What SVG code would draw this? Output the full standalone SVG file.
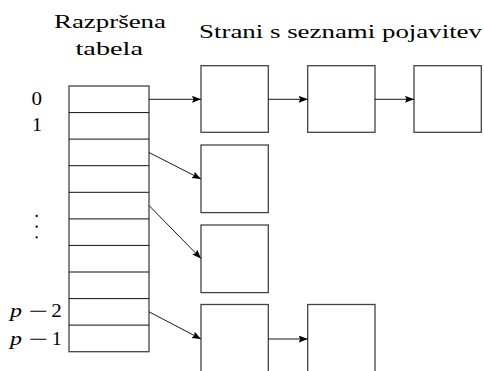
<svg xmlns="http://www.w3.org/2000/svg" width="484" height="371" viewBox="0 0 484 371">
<style>
.t{font-family:"Liberation Serif","Times New Roman",serif;fill:#000}
.ti{font-size:19.5px}
.lb{font-size:18px}
.box{fill:#fff;stroke:#444;stroke-width:1.3}
.row{stroke:#111;stroke-width:1}
.c{stroke:#000;stroke-width:0.9;fill:none;marker-end:url(#ah)}
</style>
<defs>
<marker id="ah" markerUnits="userSpaceOnUse" markerWidth="10" markerHeight="8" refX="9" refY="3.5" orient="auto">
<path d="M0,0 L9,3.5 L0,7 L1.5,3.5 z" fill="#000"/>
</marker>
</defs>
<rect width="484" height="371" fill="#fff"/>
<g id="titles">
<text class="t ti" x="54" y="28" textLength="112" lengthAdjust="spacingAndGlyphs">Razpršena</text>
<text class="t ti" x="75.5" y="54.7" textLength="67.5" lengthAdjust="spacingAndGlyphs">tabela</text>
<text class="t ti" x="199" y="38.3" textLength="283" lengthAdjust="spacingAndGlyphs">Strani s seznami pojavitev</text>
</g>
<g id="labels">
<text class="t lb" x="31.5" y="104.7" textLength="10.5" lengthAdjust="spacingAndGlyphs">0</text>
<text class="t lb" x="32" y="131.3" textLength="10" lengthAdjust="spacingAndGlyphs">1</text>
<circle cx="36.7" cy="216" r="1.15" fill="#000"/>
<circle cx="36.7" cy="226.7" r="1.15" fill="#000"/>
<circle cx="36.7" cy="237.3" r="1.15" fill="#000"/>
<text class="t lb" x="10" y="317.3" font-style="italic" textLength="12" lengthAdjust="spacingAndGlyphs">p</text>
<text class="t lb" x="28.5" y="317.3" textLength="19.5" lengthAdjust="spacingAndGlyphs">−</text>
<text class="t lb" x="51.2" y="317.3" textLength="10.5" lengthAdjust="spacingAndGlyphs">2</text>
<text class="t lb" x="10" y="345" font-style="italic" textLength="12" lengthAdjust="spacingAndGlyphs">p</text>
<text class="t lb" x="28.5" y="345" textLength="19.5" lengthAdjust="spacingAndGlyphs">−</text>
<text class="t lb" x="51.7" y="345" textLength="10" lengthAdjust="spacingAndGlyphs">1</text>
</g>
<g id="table">
<rect class="box" x="69" y="86" width="80" height="265.7"/>
<line class="row" x1="69" y1="112.6" x2="149" y2="112.6"/>
<line class="row" x1="69" y1="139.1" x2="149" y2="139.1"/>
<line class="row" x1="69" y1="165.7" x2="149" y2="165.7"/>
<line class="row" x1="69" y1="192.3" x2="149" y2="192.3"/>
<line class="row" x1="69" y1="218.9" x2="149" y2="218.9"/>
<line class="row" x1="69" y1="245.4" x2="149" y2="245.4"/>
<line class="row" x1="69" y1="272" x2="149" y2="272"/>
<line class="row" x1="69" y1="298.6" x2="149" y2="298.6"/>
<line class="row" x1="69" y1="325.1" x2="149" y2="325.1"/>
</g>
<g id="page1a"><rect class="box" x="201" y="65.7" width="67.3" height="66.6"/></g>
<g id="page1b"><rect class="box" x="307.7" y="65.7" width="67.3" height="66.6"/></g>
<g id="page1c"><rect class="box" x="414" y="65.7" width="67.3" height="66.6"/></g>
<g id="page2"><rect class="box" x="201" y="145" width="67.3" height="67.6"/></g>
<g id="page3"><rect class="box" x="201" y="225" width="67.3" height="67.6"/></g>
<g id="page4a"><rect class="box" x="201" y="304.5" width="67.3" height="70"/></g>
<g id="page4b"><rect class="box" x="307.7" y="304.5" width="67.3" height="70"/></g>
<g id="connectors">
<line class="c" x1="149" y1="99.3" x2="201" y2="99.3"/>
<line class="c" x1="268.3" y1="99.3" x2="307.7" y2="99.3"/>
<line class="c" x1="375" y1="99.3" x2="414" y2="99.3"/>
<line class="c" x1="149" y1="152.5" x2="201" y2="179"/>
<line class="c" x1="149" y1="205.5" x2="201" y2="258.5"/>
<line class="c" x1="149" y1="311.8" x2="201" y2="339"/>
<line class="c" x1="268.3" y1="339" x2="307.7" y2="339"/>
</g>
</svg>
